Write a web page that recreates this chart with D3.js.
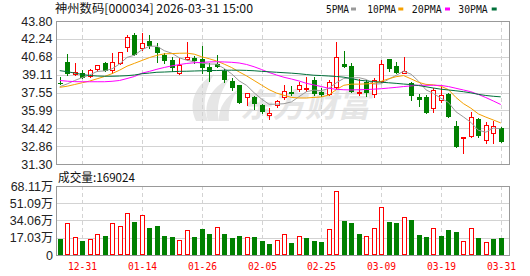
<!DOCTYPE html>
<html><head><meta charset="utf-8">
<script src="https://cdn.jsdelivr.net/npm/d3@7/dist/d3.min.js"></script>
<style>body{margin:0;background:#fff}svg{display:block}</style>
</head><body>
<script>
// ---------- data ----------
const dates = ["12-26","12-29","12-30","12-31","01-05","01-06","01-07","01-08","01-09","01-12",
  "01-13","01-14","01-15","01-16","01-19","01-20","01-21","01-22","01-23","01-26",
  "01-27","01-28","01-29","01-30","02-02","02-03","02-04","02-05","02-06","02-09",
  "02-10","02-11","02-12","02-13","02-24","02-25","02-26","02-27","03-02","03-03",
  "03-04","03-05","03-06","03-09","03-10","03-11","03-12","03-13","03-16","03-17",
  "03-18","03-19","03-20","03-23","03-24","03-25","03-26","03-27","03-30","03-31"];
const opens = [38.42,40.22,39.17,39.23,38.99,39.63,40.16,39.52,40.10,41.50,
  42.60,41.41,42.08,41.50,40.86,40.39,39.23,40.48,40.54,40.45,
  39.81,40.04,39.46,38.58,38.21,37.18,37.18,36.46,35.56,36.46,
  37.13,37.62,37.83,37.86,38.64,37.59,37.46,38.06,40.01,39.87,
  37.50,38.49,37.42,38.55,40.45,39.87,39.28,38.35,37.18,37.18,
  36.17,36.90,37.42,34.62,33.58,33.78,35.24,33.40,33.98,34.47];
const highs = [38.88,40.92,40.10,39.52,39.58,39.95,40.24,40.98,41.12,42.58,
  42.72,42.78,42.58,41.85,40.98,40.68,40.54,41.99,40.74,41.62,
  40.10,40.83,39.58,38.79,38.23,37.53,37.24,36.55,36.22,36.90,
  38.18,38.12,38.49,38.90,38.88,37.92,38.64,41.96,41.18,40.10,
  38.70,38.64,38.79,40.39,40.47,40.24,40.68,38.49,37.42,37.33,
  37.92,38.21,37.53,35.09,33.66,35.87,35.30,35.00,35.09,34.56];
const lows = [38.29,39.05,39.08,38.79,38.88,39.46,39.46,39.23,40.04,41.20,
  40.83,41.27,41.45,40.24,40.10,39.46,39.17,40.39,40.10,39.23,
  38.58,39.81,38.49,37.77,36.61,36.46,36.08,35.79,35.26,36.31,
  36.98,37.33,37.68,37.65,37.33,37.24,37.33,37.92,39.75,37.59,
  37.33,37.24,37.13,38.50,39.40,39.23,39.23,36.90,36.37,35.79,
  35.87,36.75,35.38,32.76,32.30,33.69,33.64,33.16,33.11,33.25];
const closes = [38.40,39.28,39.30,38.93,39.52,39.93,39.52,40.19,41.06,42.38,
  40.92,41.90,41.70,41.09,40.39,39.81,39.93,40.63,40.39,39.81,
  39.46,39.87,38.70,38.06,36.75,37.48,36.66,35.96,35.73,36.81,
  37.68,37.48,38.18,37.97,37.48,37.46,38.44,40.63,39.90,37.68,
  37.60,37.62,38.64,40.01,39.67,39.33,39.40,37.33,36.96,35.87,
  37.77,37.31,35.50,32.88,33.64,35.38,33.84,34.68,34.64,33.34];
const prevClose = 38.60; // close of the day before the first candle
const volumes = [157900,315900,174400,138200,154600,204000,187500,315900,286300,414600,
  329000,394800,266500,286300,187500,177700,148100,243500,177700,256600,
  210600,276400,207300,167800,187500,174400,177700,141500,108600,144800,
  204000,118500,184200,167800,138200,128300,253400,628400,335600,315900,
  207300,184200,263200,470500,325700,315900,371800,345500,197400,177700,
  263200,187500,246800,227000,134900,263200,167800,125000,157900,169024];
const ma5 = [38.06,38.30,38.60,38.85,39.08,39.39,39.44,39.62,40.04,40.62,
  40.81,41.29,41.59,41.60,41.20,40.98,40.58,40.37,40.23,40.11,
  40.04,40.03,39.65,39.18,38.57,38.17,37.53,36.98,36.52,36.53,
  36.57,36.73,37.18,37.62,37.76,37.71,37.91,38.40,38.78,38.82,
  38.85,38.69,38.29,38.31,38.71,39.05,39.41,39.15,38.54,37.78,
  37.46,37.05,36.68,35.87,35.42,34.94,34.25,34.08,34.44,34.38];
const ma10 = [38.00,38.10,38.25,38.40,38.55,38.75,38.95,39.20,39.50,39.85,
  40.10,40.35,40.60,40.80,40.93,40.95,40.98,40.99,40.90,40.67,
  40.50,40.30,40.03,39.73,39.35,39.00,38.60,38.20,37.80,37.50,
  37.30,37.12,37.07,37.07,37.12,37.16,37.33,37.80,38.18,38.28,
  38.28,38.30,38.35,38.53,38.75,38.93,39.03,38.74,38.44,38.26,
  38.22,38.10,37.80,37.12,36.58,36.18,35.68,35.40,35.15,34.89];
const ma20 = [38.60,38.54,38.50,38.49,38.49,38.49,38.49,38.53,38.60,38.77,
  38.95,39.24,39.40,39.58,39.74,39.88,39.99,40.09,40.15,40.18,
  40.22,40.24,40.22,40.19,40.13,40.00,39.80,39.56,39.30,39.08,
  38.88,38.73,38.56,38.35,38.21,38.07,37.92,37.83,37.79,37.77,
  37.79,37.81,37.84,37.88,37.94,38.00,38.07,38.13,38.19,38.18,
  38.18,38.17,38.07,37.92,37.77,37.62,37.38,37.11,36.81,36.50];
const ma30 = [39.46,39.37,39.25,39.12,39.04,38.99,38.97,38.97,38.99,39.02,
  39.08,39.19,39.25,39.32,39.34,39.37,39.40,39.41,39.43,39.45,
  39.47,39.47,39.49,39.50,39.50,39.48,39.45,39.40,39.36,39.32,
  39.28,39.24,39.19,39.12,39.06,39.03,38.99,38.95,38.89,38.77,
  38.63,38.56,38.51,38.45,38.40,38.35,38.29,38.24,38.16,38.05,
  37.94,37.84,37.77,37.70,37.62,37.52,37.39,37.29,37.22,37.17];
const priceTickLabels = ["31.30","32.86","34.42","35.99","37.55","39.11","40.68","42.24","43.80"];
const volTickLabels = ["0","17.03万","34.06万","51.09万","68.11万"];
const volTickValues = [0,170300,340600,510900,681100];
const dateLabels = ["12-31","01-14","01-26","02-05","02-25","03-09","03-19","03-31"];
const maNames = ["5PMA","10PMA","20PMA","30PMA"];
const titleText = "神州数码[000034] 2026-03-31 15:00";
const volTitleText = "成交量:169024";
const watermarkText = "东方财富";

// ---------- styles ----------
const RED = "#ff0000", GREEN = "#008000";
const maColors = ["#9a9a9a","#f5a000","#ff00ff","#00703a"];
const GRID = "#d3d3d3", FRAME = "#999999";

const W = 530, H = 276;
const L = 56, R = 509, mainTop = 21, mainBot = 164, volTop = 186, volBot = 255;

const svg = d3.select("body").append("svg").attr("width", W).attr("height", H)
  .style("font-family", "'Liberation Sans', Arial, sans-serif");

const x = d3.scaleBand().domain(d3.range(dates.length)).range([L, 504.5]).padding(0);
const cx = i => x(i) + x.bandwidth() / 2;
const px = i => Math.round(cx(i));
const y = d3.scaleLinear().domain([31.30, 43.80]).range([mainBot, mainTop]);
const yv = d3.scaleLinear().domain([0, 681100]).range([volBot, volTop]);
const crisp = v => Math.round(v) + 0.5;

// ---------- watermark ----------
const wm = svg.append("g").attr("fill", "#e6e6e6");
wm.append("path").attr("d", "M196,121 C188,104 194,86 214,74 C204,90 202,106 208,121 Z");
wm.append("path").attr("d", "M208,121 C203,104 210,88 230,78 C219,93 216,107 219,121 Z");
wm.append("path").attr("d", "M219,121 C218,108 226,96 238,90 C230,101 228,111 229,121 Z");
wm.append("text").attr("x", 240).attr("y", 117).text(watermarkText)
  .attr("font-family", "'Noto Sans CJK SC'").attr("font-weight", "bold")
  .attr("font-style", "italic").attr("font-size", 33).attr("textLength", 130)
  .attr("lengthAdjust", "spacingAndGlyphs");

// ---------- grids ----------
const grid = svg.append("g").attr("stroke", GRID).attr("stroke-width", 1);
priceTickLabels.forEach(t => {
  const yy = crisp(y(+t));
  grid.append("line").attr("x1", L).attr("x2", R).attr("y1", yy).attr("y2", yy);
});
volTickValues.forEach(v => {
  const yy = crisp(yv(v));
  grid.append("line").attr("x1", L).attr("x2", R).attr("y1", yy).attr("y2", yy);
});
const labelIdx = dateLabels.map(d => dates.indexOf(d));
labelIdx.forEach(i => {
  const xx = px(i) + 0.5;
  grid.append("line").attr("x1", xx).attr("x2", xx).attr("y1", mainTop).attr("y2", mainBot)
    .attr("stroke-dasharray", "4,3");
  grid.append("line").attr("x1", xx).attr("x2", xx).attr("y1", volTop).attr("y2", volBot)
    .attr("stroke-dasharray", "4,3");
});

// ---------- frames ----------
svg.append("rect").attr("x", L + 0.5).attr("y", mainTop + 0.5)
  .attr("width", R - L).attr("height", mainBot - mainTop)
  .attr("fill", "none").attr("stroke", FRAME);
svg.append("rect").attr("x", L + 0.5).attr("y", volTop + 0.5)
  .attr("width", R - L).attr("height", volBot - volTop)
  .attr("fill", "none").attr("stroke", FRAME);

// ---------- candles ----------
const cg = svg.append("g");
dates.forEach((d, i) => {
  const up = closes[i] >= opens[i];
  const col = up ? RED : GREEN;
  const xx = px(i) + 0.5;
  cg.append("line").attr("x1", xx).attr("x2", xx)
    .attr("y1", Math.round(y(highs[i]))).attr("y2", Math.round(y(lows[i])) + 1)
    .attr("stroke", col);
  const yTop = Math.round(y(Math.max(opens[i], closes[i])));
  const yBot = Math.round(y(Math.min(opens[i], closes[i])));
  const h = yBot - yTop;
  if (h < 1) {
    cg.append("line").attr("x1", px(i) - 2).attr("x2", px(i) + 3)
      .attr("y1", yTop + 0.5).attr("y2", yTop + 0.5).attr("stroke", col);
  } else if (up) {
    cg.append("rect").attr("x", px(i) - 2 + 0.5).attr("y", yTop + 0.5)
      .attr("width", 4).attr("height", h).attr("fill", "#fff").attr("stroke", col);
  } else {
    cg.append("rect").attr("x", px(i) - 2).attr("y", yTop)
      .attr("width", 5).attr("height", h + 1).attr("fill", col);
  }
});

// ---------- moving averages ----------
const line = d3.line().x((d, i) => cx(i)).y(d => y(d));
[ma5, ma10, ma20, ma30].forEach((arr, k) => {
  svg.append("path").attr("d", line(arr)).attr("fill", "none")
    .attr("stroke", maColors[k]).attr("stroke-width", 1);
});

// ---------- volume ----------
const vg = svg.append("g");
volumes.forEach((v, i) => {
  const ref = i ? closes[i - 1] : prevClose;
  const up = closes[i] >= ref;
  const top = Math.round(yv(v));
  if (up) {
    vg.append("rect").attr("x", px(i) - 2 + 0.5).attr("y", top + 0.5)
      .attr("width", 4).attr("height", volBot - top - 1)
      .attr("fill", "#fff").attr("stroke", RED);
  } else {
    vg.append("rect").attr("x", px(i) - 2).attr("y", top)
      .attr("width", 5).attr("height", volBot - top).attr("fill", GREEN);
  }
});

// ---------- axis labels ----------
const yl = svg.append("g").attr("font-size", 12.5).attr("fill", "#222").attr("text-anchor", "end");
priceTickLabels.forEach(t => {
  yl.append("text").attr("x", 52.5).attr("y", y(+t)).attr("dy", "0.36em").text(t);
});
volTickLabels.forEach((t, k) => {
  const num = t.replace("万", "");
  const tx = yl.append("text").attr("x", 53).attr("y", yv(volTickValues[k])).attr("dy", "0.36em");
  tx.append("tspan").text(num);
  if (t.endsWith("万")) tx.append("tspan").attr("font-family", "'Noto Sans CJK SC'")
    .attr("font-size", 12).text("万");
});

const monoFont = "'DejaVu Sans Mono', monospace";
const dl = svg.append("g").attr("fill", RED).attr("font-family", monoFont)
  .attr("font-size", 11).attr("text-anchor", "middle");
labelIdx.forEach((i, k) => {
  dl.append("text").attr("x", px(i) + 0.5).attr("y", 270).text(dateLabels[k])
    .attr("textLength", 29).attr("lengthAdjust", "spacingAndGlyphs");
});

// ---------- titles ----------
svg.append("text").attr("x", 55).attr("y", 12.5).text(titleText)
  .attr("font-family", "'Noto Sans CJK SC'").attr("font-size", 12).attr("fill", "#111")
  .attr("textLength", 198).attr("lengthAdjust", "spacingAndGlyphs");
svg.append("text").attr("x", 58).attr("y", 182).text(volTitleText)
  .attr("font-family", "'Noto Sans CJK SC'").attr("font-size", 12).attr("fill", "#111")
  .attr("textLength", 77).attr("lengthAdjust", "spacingAndGlyphs");

// ---------- legend ----------
const legX = [326, 367.3, 411.7, 458.3];
const legW = [23, 28.7, 30, 29.4];
const mkX = [351, 398.3, 445, 491.7];
const lg = svg.append("g").attr("font-family", monoFont).attr("font-size", 11).attr("fill", "#111");
maNames.forEach((n, k) => {
  lg.append("text").attr("x", legX[k]).attr("y", 12.5).text(n)
    .attr("textLength", legW[k]).attr("lengthAdjust", "spacingAndGlyphs");
  lg.append("rect").attr("x", mkX[k]).attr("y", 7.5).attr("width", 5).attr("height", 3)
    .attr("fill", maColors[k]);
});
</script>
</body></html>
